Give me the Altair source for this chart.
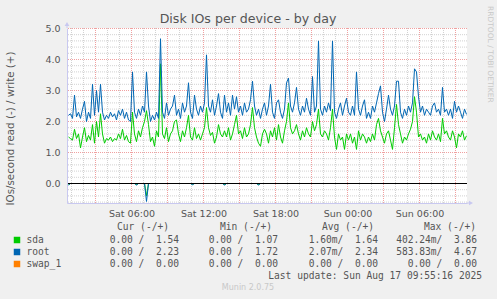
import altair as alt
import pandas as pd

# ---------------- data ----------------
# samples every 10 minutes, first sample Sat 00:45, hours counted from Sat 00:00
START_HOUR = 0.75
STEP_HOURS = 1.0 / 6.0

ROOT_WRITE = [
    2.2, 2.25, 2.1, 2.85, 2.15, 2.3, 2.1, 2.4, 2.65, 2.0,
    2.3, 2.1, 3.2, 2.2, 3.0, 2.3, 3.2, 2.3, 2.05, 2.2,
    2.1, 2.3, 2.15, 2.25, 2.05, 2.35, 2.2, 2.4, 2.1, 2.3,
    2.05, 2.0, 3.6, 2.3, 2.1, 2.4, 2.2, 2.5, 2.3, 3.6,
    2.5, 2.0, 2.2, 2.05, 2.3, 2.1, 4.67, 2.3, 2.1, 2.6,
    2.2, 2.4, 2.5, 2.85, 2.2, 2.4, 2.1, 2.6, 2.3, 2.5,
    3.25, 2.3, 2.1, 2.85, 2.4, 2.2, 2.5, 2.3, 2.6, 4.15,
    2.5, 2.3, 2.7, 2.2, 2.5, 2.9, 2.3, 2.1, 2.85, 2.3,
    2.6, 2.2, 2.85, 2.4, 2.8, 2.3, 2.5, 2.2, 2.6, 2.3,
    2.4, 2.7, 3.3, 2.5, 2.2, 2.4, 2.1, 2.4, 2.6,
    2.2, 2.5, 3.2, 2.3, 2.1, 2.6, 2.7, 2.3, 2.1, 2.4,
    3.25, 3.4, 2.5, 2.3, 2.6, 3.1, 2.4, 2.2, 2.5, 2.3,
    2.75, 2.4, 2.2, 3.45, 2.3, 2.5, 4.6, 2.4, 2.2, 2.5,
    2.3, 2.6, 2.35, 4.6, 2.3, 2.1, 2.4, 2.6, 2.2, 2.5,
    2.75, 2.3, 2.2, 2.5, 2.2, 3.6, 2.4, 2.2, 2.5, 2.7,
    2.1, 2.3, 2.1, 2.5, 2.3, 2.6, 2.9, 3.15, 2.3, 2.0,
    2.4, 2.85, 2.4, 2.2, 2.5, 3.3, 3.3, 2.3, 2.1, 2.4,
    2.2, 2.5, 2.3, 2.6, 3.7, 3.6, 2.8, 2.3, 2.5, 2.2,
    2.4, 2.3, 2.2, 2.5, 2.6, 2.3, 2.4, 2.2, 3.1, 2.3,
    2.4, 2.2, 2.4, 2.1, 2.65, 2.3, 2.5, 2.3, 2.1, 2.4,
    2.23,
]

SDA_WRITE = [
    1.5, 1.45, 1.4, 1.75, 1.45, 1.6, 1.15, 1.5, 1.8, 1.35,
    1.55, 1.4, 1.9, 1.3, 2.0, 1.5, 2.25, 1.6, 1.3, 1.45,
    1.4, 1.5, 1.35, 1.45, 1.4, 1.6, 1.45, 1.75, 1.4, 1.55,
    1.35, 1.3, 2.3, 1.6, 1.35, 1.7, 1.5, 1.8, 2.0, 2.35,
    1.9, 1.35, 1.5, 1.2, 1.7, 1.5, 3.86, 1.6, 1.45, 1.8,
    1.35, 1.6, 1.7, 2.0, 2.05, 1.6, 1.35, 1.7, 1.5, 1.8,
    2.2, 1.5, 1.4, 1.8, 1.45, 1.6, 1.4, 1.6, 1.8, 2.45,
    1.8, 1.55, 1.65, 1.3, 1.5, 1.9, 1.6, 1.5, 1.7, 1.5,
    1.8, 1.4, 1.6, 1.9, 2.2, 1.6, 1.7, 1.45, 1.8, 1.5,
    1.6, 1.9, 2.45, 1.8, 1.5, 1.3, 1.2, 1.6, 1.75,
    1.6, 1.3, 1.7, 1.5, 1.8, 1.4, 1.9, 1.5, 1.3, 1.7,
    2.0, 2.6, 1.8, 1.6, 1.7, 1.9, 1.6, 1.4, 1.7, 1.5,
    1.8, 1.6, 1.5, 2.0, 1.7, 1.9, 2.4, 1.6, 1.5, 1.7,
    1.6, 1.4, 1.8, 2.4, 1.5, 1.1, 1.6, 1.4, 1.5, 1.1,
    1.6, 1.4, 1.6, 1.3, 1.5, 1.1, 1.7, 1.4, 1.6, 1.5,
    1.3, 1.5, 1.35, 1.6, 1.4, 1.9, 2.1, 1.7, 1.5, 1.3,
    1.6, 1.7, 1.4, 1.1, 1.8, 2.55, 1.9, 1.6, 1.3, 1.5,
    1.4, 1.6, 1.75, 2.0, 2.8, 2.3, 1.5, 1.6, 1.4, 1.5,
    1.3, 1.6, 1.4, 1.7, 1.5, 1.4, 1.6, 1.35, 2.1, 1.6,
    1.7, 1.5, 1.4, 1.7, 1.5, 1.15, 1.6, 1.5, 1.7, 1.4,
    1.54,
]

SWAP_WRITE = [0.0] * len(ROOT_WRITE)

# reads are zero except at these samples (sample index -> IOs/s)
SDA_READ_EVENTS = {0: 0.03, 34: 0.03, 39: 0.40, 62: 0.02, 78: 0.03, 95: 0.03}
ROOT_READ_EVENTS = {0: 0.05, 34: 0.05, 39: 0.58, 62: 0.04, 78: 0.05, 95: 0.05}

X_TICK_HOURS = [6, 12, 18, 24, 30]
X_TICK_LABELS = ["Sat 06:00", "Sat 12:00", "Sat 18:00", "Sun 00:00", "Sun 06:00"]
X_MINOR_GRID_HOURS = list(range(1, 34))
X_MAJOR_GRID_HOURS = list(range(3, 34, 3))
Y_MINOR_GRID = [round(-0.6 + 0.2 * k, 1) for k in range(29)]
Y_MAJOR_GRID = [0.0, 1.0, 2.0, 3.0, 4.0, 5.0]

LEGEND_NAMES = ["sda", "root", "swap_1"]
LEGEND_COLORS = ["#00CC00", "#0066B3", "#FF8000"]
LEGEND_CUR = ["0.00 /  1.54", "0.00 /  2.23", "0.00 /  0.00"]
LEGEND_MIN = ["0.00 /  1.07", "0.00 /  1.72", "0.00 /  0.00"]
LEGEND_AVG = ["1.60m/  1.64", "2.07m/  2.34", "0.00 /  0.00"]
LEGEND_MAX = ["402.24m/  3.86", "583.83m/  4.67", "0.00 /  0.00"]
LEGEND_HEADERS = ["Cur (-/+)", "Min (-/+)", "Avg (-/+)", "Max (-/+)"]

TITLE = "Disk IOs per device - by day"
Y_TITLE = "IOs/second read (-) / write (+)"
LAST_UPDATE = "Last update: Sun Aug 17 09:55:16 2025"
FOOTER = "Munin 2.0.75"
SIDE_TEXT = "RRDTOOL / TOBI OETIKER"

# ---------------- table ----------------
n = len(ROOT_WRITE)
hours = [START_HOUR + i * STEP_HOURS for i in range(n)]
rows = []
series = [
    ("sda", SDA_WRITE, SDA_READ_EVENTS),
    ("root", ROOT_WRITE, ROOT_READ_EVENTS),
    ("swap_1", SWAP_WRITE, {}),
]
for name, wr, rd in series:
    for i in range(n):
        rows.append({"dev": name, "dir": "write", "h": hours[i], "v": wr[i]})
        rows.append({"dev": name, "dir": "read", "h": hours[i], "v": -rd.get(i, 0.0)})
df = pd.DataFrame(rows)

# ---------------- layout ----------------
W, H = 400, 175
PL, PT = 67, 28
PR, PB = 497 - PL - W, 299 - PT - H

GRID_GRAY = "#D2D2D2"
GRID_RED = "#F0A0A0"
AXIS_COL = "#C8C8F0"
TEXT_COL = "#555555"

# 12 px per hour, 31 px per unit; half-pixel offsets keep 1px lines crisp
X_DOMAIN = [0.625, 0.625 + W / 12.0]
Y_TOP = 5.0 + 0.5 / 31.0
Y_DOMAIN = [Y_TOP - H / 31.0, Y_TOP]
xs = alt.Scale(domain=X_DOMAIN, nice=False, zero=False)
ys = alt.Scale(domain=Y_DOMAIN, nice=False, zero=False)

x_label_expr = "''"
for hh, lab in reversed(list(zip(X_TICK_HOURS, X_TICK_LABELS))):
    x_label_expr = f"datum.value === {hh} ? '{lab}' : ({x_label_expr})"

x_axis = alt.Axis(
    values=X_TICK_HOURS, title=None, grid=False, ticks=False,
    labelExpr=x_label_expr, labelOverlap=False, labelFlush=False,
    labelFont="DejaVu Sans", labelFontSize=9.5, labelColor=TEXT_COL, labelPadding=5,
    domainColor=AXIS_COL, zindex=2,
)
y_axis = alt.Axis(
    values=Y_MAJOR_GRID, grid=False, ticks=False,
    format=".1f", labelOverlap=False, labelFlush=False,
    labelFont="DejaVu Sans", labelFontSize=9.5, labelColor=TEXT_COL, labelPadding=7,
    domainColor=AXIS_COL, zindex=2,
    title=Y_TITLE, titleFont="DejaVu Sans", titleFontSize=10.3, titleFontWeight="normal",
    titleColor=TEXT_COL, titleAngle=270, titleAlign="center", titleBaseline="middle",
    titleX=10 - PL, titleY=128 - PT,
)


def vgrid(vals, color):
    return alt.Chart(pd.DataFrame({"g": vals})).mark_rule(
        color=color, strokeWidth=1, strokeDash=[1, 1]
    ).encode(x=alt.X("g:Q", scale=xs, axis=x_axis))


def hgrid(vals, color):
    return alt.Chart(pd.DataFrame({"g": vals})).mark_rule(
        color=color, strokeWidth=1, strokeDash=[1, 1]
    ).encode(y=alt.Y("g:Q", scale=ys, axis=y_axis))


grids = [
    vgrid(X_MINOR_GRID_HOURS, GRID_GRAY),
    hgrid(Y_MINOR_GRID, GRID_GRAY),
    vgrid(X_MAJOR_GRID_HOURS, GRID_RED),
    hgrid(Y_MAJOR_GRID, GRID_RED),
]

base = alt.Chart(df)


def dev_line(name, color):
    return base.transform_filter(alt.datum.dev == name).mark_line(
        color=color, strokeWidth=1, clip=True, interpolate="linear"
    ).encode(
        x=alt.X("h:Q", scale=xs, axis=x_axis),
        y=alt.Y("v:Q", scale=ys, axis=y_axis),
        detail="dir:N",
    )


lines = [dev_line(nm, col) for nm, col in zip(LEGEND_NAMES, LEGEND_COLORS)]

zero_rule = alt.Chart(alt.Data(values=[{"z": 0}])).mark_rule(color="#000000", strokeWidth=1).encode(
    y=alt.Y("z:Q", scale=ys, axis=y_axis)
)


def txt(s, x, y, size=9.6, color=TEXT_COL, font="DejaVu Sans Mono", align="left", angle=0, baseline="middle"):
    s = s.replace("  ", " \u00a0")
    return alt.Chart(alt.Data(values=[{"t": s}])).mark_text(
        align=align, baseline=baseline, font=font, fontSize=size, color=color, angle=angle
    ).encode(x=alt.value(x - PL), y=alt.value(y - PT), text="t:N")


deco = []
deco.append(txt(TITLE, 248, 19, size=12.6, font="DejaVu Sans", align="center"))
deco.append(txt(SIDE_TEXT, 490, 6, size=7.5, color="#C8C8C8", font="DejaVu Sans", angle=90))
deco.append(txt(FOOTER, 248, 288, size=8, color="#C8C8C8", font="DejaVu Sans", align="center"))

# axis arrows
deco.append(alt.Chart(alt.Data(values=[{}])).mark_rule(color=AXIS_COL).encode(
    x=alt.value(0), y=alt.value(-4), y2=alt.value(0)))
deco.append(alt.Chart(alt.Data(values=[{}])).mark_point(
    shape="triangle-up", filled=True, color=AXIS_COL, size=22, opacity=1).encode(
    x=alt.value(0), y=alt.value(-4)))
deco.append(alt.Chart(alt.Data(values=[{}])).mark_rule(color=AXIS_COL).encode(
    x=alt.value(W), x2=alt.value(W + 4), y=alt.value(H)))
deco.append(alt.Chart(alt.Data(values=[{}])).mark_point(
    shape="triangle-right", filled=True, color=AXIS_COL, size=22, opacity=1).encode(
    x=alt.value(W + 4), y=alt.value(H)))

# legend table
header_right = [169, 272, 374, 476]
for hdr, xr in zip(LEGEND_HEADERS, header_right):
    deco.append(txt(hdr, xr, 227, align="right"))
row_y = [240, 252, 264]
col_right = [179, 278, 378, 477]
for i, nm in enumerate(LEGEND_NAMES):
    yy = row_y[i]
    deco.append(alt.Chart(alt.Data(values=[{}])).mark_square(
        color=LEGEND_COLORS[i], size=42, opacity=1, filled=True).encode(
        x=alt.value(17 - PL), y=alt.value(yy - PT)))
    deco.append(txt(nm, 26.5, yy))
    for vals, xr in zip([LEGEND_CUR, LEGEND_MIN, LEGEND_AVG, LEGEND_MAX], col_right):
        deco.append(txt(vals[i], xr, yy, align="right"))
deco.append(txt(LAST_UPDATE, 482, 276, align="right"))

chart = alt.layer(*grids, *lines, zero_rule, *deco).properties(
    width=W, height=H,
    padding={"left": PL, "top": PT, "right": PR, "bottom": PB},
    autosize=alt.AutoSizeParams(type="none"),
    background="#F0F0F0",
).configure_view(fill="#FFFFFF", stroke=None).configure_axis(domainWidth=1)

chart.save("out.html", embed_options={"renderer": "svg", "actions": False})
